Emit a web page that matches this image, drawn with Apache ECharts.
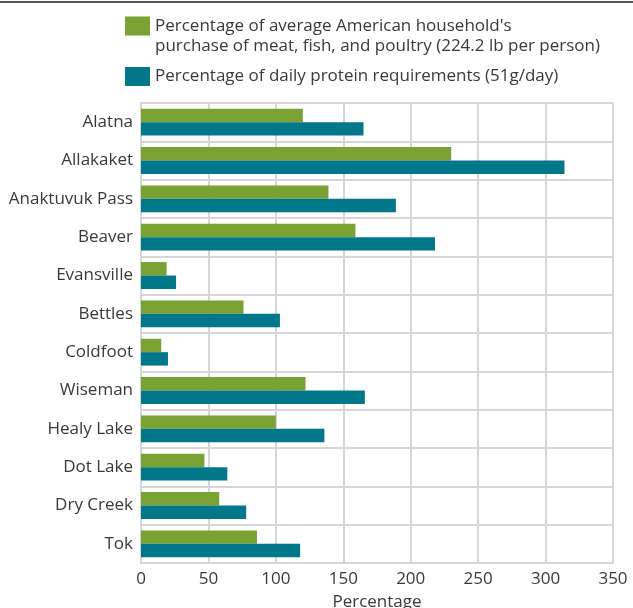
<!DOCTYPE html>
<html>
<head>
<meta charset="utf-8">
<script src="https://cdn.jsdelivr.net/npm/echarts@6/dist/echarts.min.js"></script>
<style>
html,body{margin:0;padding:0;background:#fff;}
#chart{width:633px;height:608px;}
</style>
</head>
<body>
<div id="chart"></div>
<script>
const categories = ['Alatna','Allakaket','Anaktuvuk Pass','Beaver','Evansville','Bettles','Coldfoot','Wiseman','Healy Lake','Dot Lake','Dry Creek','Tok'];
const householdPct = [120, 230, 139, 159, 19, 76, 15, 122, 100, 47, 58, 86];
const proteinPct = [165, 314, 189, 218, 26, 103, 20, 166, 136, 64, 78, 118];
const xTicks = [0, 50, 100, 150, 200, 250, 300, 350];
const seriesNames = [
  "Percentage of average American household's\npurchase of meat, fish, and poultry (224.2 lb per person)",
  'Percentage of daily protein requirements (51g/day)'
];

const FONT = '"Open Sans", sans-serif';
const TXT = '#3a3a3a';
const GRID = '#d6d6d6';
const chart = echarts.init(document.getElementById('chart'), null, {renderer: 'canvas'});

chart.setOption({
  animation: false,
  textStyle: {fontFamily: FONT},
  graphic: [{
    type: 'line', shape: {x1: 0, y1: 2, x2: 633, y2: 2},
    style: {stroke: '#555', lineWidth: 2}
  }],
  legend: [{
    data: [seriesNames[0]], left: 125, top: -4, padding: 0,
    itemWidth: 25, itemHeight: 19, itemGap: 0, icon: 'rect',
    selectedMode: false,
    formatter: function (name) { return '\n' + name; },
    textStyle: {fontFamily: FONT, fontSize: 17, color: TXT, lineHeight: 20}
  }, {
    data: [seriesNames[1]], left: 125, top: 67, padding: 0,
    itemWidth: 25, itemHeight: 19, icon: 'rect',
    selectedMode: false,
    textStyle: {fontFamily: FONT, fontSize: 17, color: TXT}
  }],
  grid: {left: 141, right: 20, top: 103, bottom: 45, containLabel: false, outerBoundsMode: 'none'},
  xAxis: {
    type: 'value', min: xTicks[0], max: xTicks[xTicks.length - 1], interval: 50,
    name: 'Percentage', nameLocation: 'middle', nameGap: 31,
    nameTextStyle: {fontFamily: FONT, fontSize: 17, color: TXT},
    axisLine: {show: true, lineStyle: {color: GRID, width: 2}},
    axisTick: {show: false},
    axisLabel: {fontFamily: FONT, fontSize: 17, color: TXT, margin: 8},
    splitLine: {show: true, lineStyle: {color: GRID, width: 2}}
  },
  yAxis: {
    type: 'category', data: categories, inverse: true,
    axisLine: {show: true, lineStyle: {color: GRID, width: 2}},
    axisTick: {show: false},
    axisLabel: {fontFamily: FONT, fontSize: 17, color: TXT, margin: 8},
    splitLine: {show: true, lineStyle: {color: GRID, width: 2}}
  },
  series: [{
    name: seriesNames[0], type: 'bar', data: householdPct,
    itemStyle: {color: '#79a232'}, barGap: '0%', barCategoryGap: '30%'
  }, {
    name: seriesNames[1], type: 'bar', data: proteinPct,
    itemStyle: {color: '#007889'}, barGap: '0%', barCategoryGap: '30%'
  }]
});
</script>
</body>
</html>
